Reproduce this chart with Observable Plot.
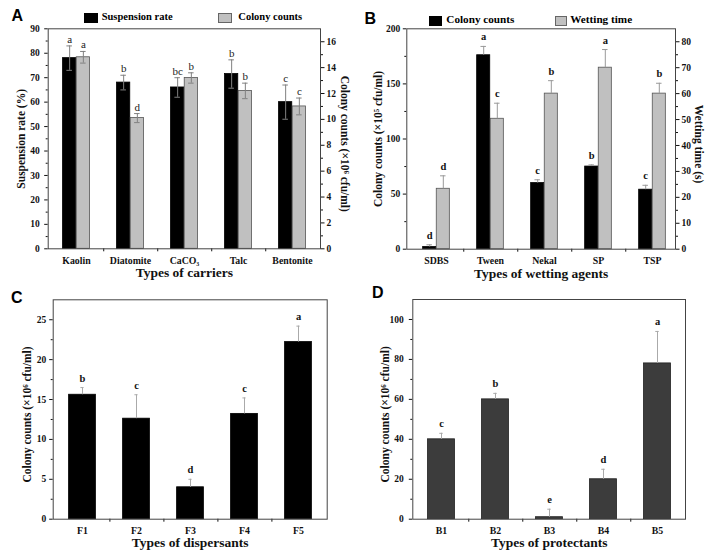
<!DOCTYPE html>
<html><head><meta charset="utf-8">
<script src="https://cdn.jsdelivr.net/npm/d3@7"></script>
<script src="https://cdn.jsdelivr.net/npm/@observablehq/plot@0.6"></script>
<style>
body{margin:0;background:#fff;}
#root{position:relative;width:706px;height:557px;overflow:hidden;font-family:"Liberation Serif","Times New Roman",serif;}
.lab{position:absolute;font-family:"Liberation Sans",Arial,sans-serif;font-weight:bold;font-size:16px;line-height:1;color:#000;}
.leg{position:absolute;font-weight:bold;white-space:nowrap;line-height:1;color:#000;font-family:"Liberation Serif","Times New Roman",serif;}
.sw{position:absolute;box-sizing:border-box;}
</style></head><body><div id="root"></div>
<script>
// ---------- DATA ----------
// Panel A: carriers
const carriers = ["Kaolin", "Diatomite", "CaCO₃", "Talc", "Bentonite"];
const suspensionRate = [78, 68, 66, 71.5, 60];
const suspensionRateSd = [5, 3, 4, 5.8, 7];
const suspensionLetters = ["a", "b", "bc", "b", "c"];
const carrierColony = [14.8, 10.1, 13.2, 12.2, 11.0];
const carrierColonySd = [0.45, 0.35, 0.4, 0.6, 0.65];
const carrierColonyLetters = ["a", "d", "b", "b", "c"];
const aLeftTicks = [0, 10, 20, 30, 40, 50, 60, 70, 80, 90];
const aLeftMinor = [5, 15, 25, 35, 45, 55, 65, 75, 85];
const aRightTicks = [0, 2, 4, 6, 8, 10, 12, 14, 16];
const aRightMinor = [1, 3, 5, 7, 9, 11, 13, 15];

// Panel B: wetting agents
const wettingAgents = ["SDBS", "Tween", "Nekal", "SP", "TSP"];
const wettingColony = [2, 176, 60, 75, 54];
const wettingColonySd = [2, 8, 3, 1.5, 4];
const wettingColonyLetters = ["d", "a", "c", "b", "c"];
const wettingTime = [23.3, 50.3, 60, 70, 60];
const wettingTimeSd = [5, 6, 5, 7, 4];
const wettingTimeLetters = ["d", "c", "b", "a", "b"];
const bLeftTicks = [0, 50, 100, 150, 200];
const bLeftMinor = [25, 75, 125, 175];
const bRightTicks = [0, 10, 20, 30, 40, 50, 60, 70, 80];
const bRightMinor = [5, 15, 25, 35, 45, 55, 65, 75];

// Panel C: dispersants
const dispersants = ["F1", "F2", "F3", "F4", "F5"];
const dispersantColony = [15.6, 12.6, 4.0, 13.2, 22.2];
const dispersantSd = [0.9, 3.0, 1.0, 2.0, 2.0];
const dispersantLetters = ["b", "c", "d", "c", "a"];
const cTicks = [0, 5, 10, 15, 20, 25];
const cMinor = [2.5, 7.5, 12.5, 17.5, 22.5];

// Panel D: protectants
const protectants = ["B1", "B2", "B3", "B4", "B5"];
const protectantColony = [40, 60, 1, 20, 78];
const protectantSd = [3, 3, 4, 5, 16];
const protectantLetters = ["c", "b", "e", "d", "a"];
const dTicks = [0, 20, 40, 60, 80, 100];
const dMinor = [10, 30, 50, 70, 90];

// ---------- DRAWING ----------
const root = document.getElementById("root");
function place(el, left, top) {
  el.style.position = "absolute";
  el.style.left = left + "px";
  el.style.top = top + "px";
  root.appendChild(el);
}

function panel(cfg) {
  const {cats, w, h, m, xRange, yMax, leftTicks, leftMinor, right, series,
         leftTitle, leftTitleDx, leftTitleDy, xTitle, xTitleDy, errBoth, errColor,
         capHalf, letterStyle, letterDy} = cfg;
  const n = cats.length;
  const range = xRange || [m.left, w - m.right];
  const bw = (range[1] - range[0]) / n;
  const marks = [];
  for (const s of series) {
    const k = s.k || 1;
    const rows = cats.map((c, i) => ({c, v: s.values[i] * k, sd: s.sd[i] * k, L: s.letters[i]}));
    const cx = bw / 2 + s.offset;
    const hw = s.width / 2;
    marks.push(Plot.barY(rows, {x: "c", y: "v", fill: s.fill, stroke: s.stroke, strokeWidth: 0.8,
      insetLeft: cx - hw, insetRight: bw - cx - hw}));
    marks.push(Plot.ruleX(rows, {x: "c", y1: d => errBoth ? d.v - d.sd : d.v, y2: d => d.v + d.sd,
      dx: s.offset, stroke: errColor, strokeWidth: 1}));
    marks.push(Plot.tickY(rows, {x: "c", y: d => d.v + d.sd, insetLeft: cx - capHalf,
      insetRight: bw - cx - capHalf, stroke: errColor, strokeWidth: 1}));
    if (errBoth) {
      marks.push(Plot.tickY(rows, {x: "c", y: d => d.v - d.sd, insetLeft: cx - capHalf,
        insetRight: bw - cx - capHalf, stroke: errColor, strokeWidth: 1}));
    }
    marks.push(Plot.text(rows, {x: "c", y: d => d.v + d.sd, text: "L", dx: s.offset, dy: -letterDy,
      lineAnchor: "bottom", ...letterStyle}));
  }
  // axes
  marks.push(Plot.axisY({ticks: leftTicks, tickSize: 3.5, tickPadding: cfg.leftPad ?? 4, label: null, fontSize: 9.5}));
  marks.push(Plot.axisY({ticks: leftMinor, tickSize: 2, tickFormat: () => "", label: null}));
  if (right) {
    marks.push(Plot.axisY({anchor: "right", ticks: right.ticks.map(t => t * right.k),
      tickFormat: d => String(Math.round(d / right.k * 10) / 10), tickSize: 3.5, tickPadding: 2.5, label: null, fontSize: 9.5}));
    marks.push(Plot.axisY({anchor: "right", ticks: right.minor.map(t => t * right.k), tickSize: 2,
      tickFormat: () => "", label: null}));
    marks.push(Plot.text([right.title], {frameAnchor: "right", rotate: 90, dx: right.dx, dy: right.dy,
      fontSize: 11.5, fontWeight: "bold", textAnchor: "middle", lineAnchor: "middle"}));
  }
  marks.push(Plot.axisX({tickSize: 0, tickPadding: 8, label: null, fontSize: 9.8}));
  marks.push(Plot.axisX({ticks: cats.slice(0, -1), tickSize: 3, tickFormat: () => "", dx: bw / 2, label: null}));
  marks.push(Plot.frame({stroke: "#444", strokeWidth: 1}));
  marks.push(Plot.text([leftTitle], {frameAnchor: "left", rotate: -90, dx: leftTitleDx, dy: leftTitleDy,
    fontSize: 11.5, fontWeight: "bold", textAnchor: "middle", lineAnchor: "middle"}));
  marks.push(Plot.text([xTitle], {frameAnchor: "bottom", dy: xTitleDy, fontSize: 13.5, fontWeight: "bold",
    lineAnchor: "middle"}));
  return Plot.plot({
    width: w, height: h,
    marginTop: m.top, marginRight: m.right, marginBottom: m.bottom, marginLeft: m.left,
    style: {fontFamily: "'Liberation Serif','Times New Roman',serif", fontWeight: "bold", fontSize: "9.5px", color: "#111", background: "transparent", overflow: "visible"},
    x: {domain: cats, range, padding: 0},
    y: {domain: [0, yMax]},
    marks
  });
}

// Panel A
const kA = 90 / 17;
place(panel({
  cats: carriers, w: 353, h: 280, m: {top: 28.3, right: 33, bottom: 31.7, left: 47.7},
  yMax: 90, leftTicks: aLeftTicks, leftMinor: aLeftMinor, leftPad: 5,
  right: {k: kA, ticks: aRightTicks, minor: aRightMinor, title: "Colony counts (×10⁶ cfu/ml)", dx: 24, dy: 5},
  series: [
    {values: suspensionRate, sd: suspensionRateSd, letters: suspensionLetters, fill: "#000", stroke: "#000", offset: -6.85, width: 13.7},
    {values: carrierColony, sd: carrierColonySd, letters: carrierColonyLetters, k: kA, fill: "#c0c0c0", stroke: "#555", offset: 6.85, width: 13.7}
  ],
  leftTitle: "Suspension rate (%)", leftTitleDx: -27, leftTitleDy: 0,
  xTitle: "Types of carriers", xTitleDy: 23.5, errBoth: true, errColor: "#808080", capHalf: 3,
  letterStyle: {fontSize: 11, fontWeight: "normal", fill: "#222"}, letterDy: 3
}), 0, 0);

// Panel B
const kB = 200 / 85;
place(panel({
  cats: wettingAgents, w: 353, h: 280, m: {top: 28.3, right: 31, bottom: 31.3, left: 53.3},
  xRange: [54.4, 327],
  yMax: 200, leftTicks: bLeftTicks, leftMinor: bLeftMinor, leftPad: 3,
  right: {k: kB, ticks: bRightTicks, minor: bRightMinor, title: "Wetting time (s)", dx: 23, dy: 5},
  series: [
    {values: wettingColony, sd: wettingColonySd, letters: wettingColonyLetters, fill: "#000", stroke: "#000", offset: -6.8, width: 13.6},
    {values: wettingTime, sd: wettingTimeSd, letters: wettingTimeLetters, k: kB, fill: "#c0c0c0", stroke: "#555", offset: 6.8, width: 13.6}
  ],
  leftTitle: "Colony counts (×10⁵ cfu/ml)", leftTitleDx: -28.3, leftTitleDy: 0,
  xTitle: "Types of wetting agents", xTitleDy: 24.5, errBoth: false, errColor: "#999", capHalf: 3,
  letterStyle: {fontSize: 10.5, fontWeight: "bold", fill: "#111"}, letterDy: 6
}), 353, 0);

// Panel C
place(panel({
  cats: dispersants, w: 353, h: 277, m: {top: 19.3, right: 26.3, bottom: 38.3, left: 52.7},
  yMax: 27.5, leftTicks: cTicks, leftMinor: cMinor, leftPad: 3.5,
  series: [
    {values: dispersantColony, sd: dispersantSd, letters: dispersantLetters, fill: "#000", stroke: "#000", offset: 0, width: 27.6}
  ],
  leftTitle: "Colony counts (×10⁶ cfu/ml)", leftTitleDx: -26, leftTitleDy: 5,
  xTitle: "Types of dispersants", xTitleDy: 23.6, errBoth: false, errColor: "#aaa", capHalf: 2,
  letterStyle: {fontSize: 10.5, fontWeight: "bold", fill: "#111"}, letterDy: 6
}), 0, 280);

// Panel D
place(panel({
  cats: protectants, w: 353, h: 277, m: {top: 19, right: 21, bottom: 38.3, left: 59.3},
  yMax: 110, leftTicks: dTicks, leftMinor: dMinor, leftPad: 5.5,
  series: [
    {values: protectantColony, sd: protectantSd, letters: protectantLetters, fill: "#3c3c3c", stroke: "#222", offset: 0, width: 27.6}
  ],
  leftTitle: "Colony counts (×10⁶ cfu/ml)", leftTitleDx: -27.6, leftTitleDy: 5,
  xTitle: "Types of protectants", xTitleDy: 23.6, errBoth: false, errColor: "#aaa", capHalf: 2,
  letterStyle: {fontSize: 10.5, fontWeight: "bold", fill: "#111"}, letterDy: 6
}), 353, 280);

// Panel labels
[["A", 11.5, 8], ["B", 364.5, 10.7], ["C", 11, 289.7], ["D", 372, 284.7]].forEach(([t, x, y]) => {
  const d = document.createElement("div"); d.className = "lab"; d.textContent = t; place(d, x, y);
});

// Legends
function legend(x, y, w, hgt, fill, stroke, label, tx, ty, fs) {
  const s = document.createElement("div"); s.className = "sw";
  s.style.width = w + "px"; s.style.height = hgt + "px"; s.style.background = fill; s.style.border = "1px solid " + stroke;
  place(s, x, y);
  const t = document.createElement("div"); t.className = "leg"; t.style.fontSize = fs + "px"; t.textContent = label;
  place(t, tx, ty);
}
legend(84, 12.7, 13.7, 10.7, "#000", "#000", "Suspension rate", 101.7, 12.2, 10.5);
legend(218, 12.7, 14, 10.7, "#c0c0c0", "#666", "Colony counts", 238.3, 12.2, 10.5);
legend(429, 16, 13.3, 9.5, "#000", "#000", "Colony counts", 446.3, 13.6, 11.2);
legend(555, 16, 11.5, 9.5, "#c0c0c0", "#666", "Wetting time", 570.3, 13.6, 11.2);
</script></body></html>
